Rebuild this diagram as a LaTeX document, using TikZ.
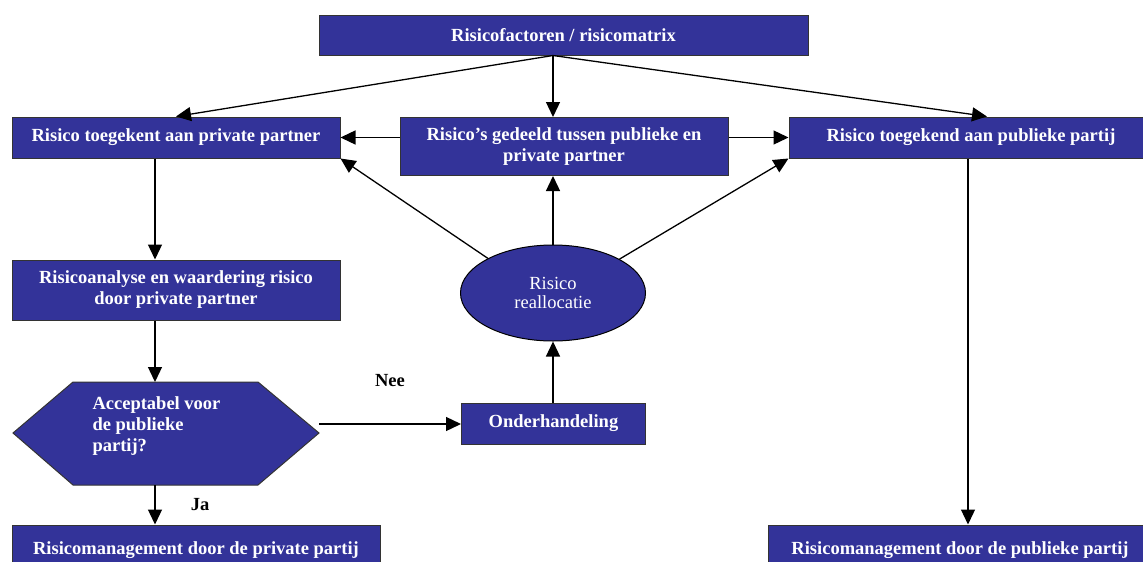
\documentclass[tikz,border=0pt]{standalone}
\usepackage{fontspec}
\setmainfont{Liberation Serif}
\usetikzlibrary{arrows.meta,shapes.geometric,calc}
\definecolor{boxblue}{HTML}{333399}
\begin{document}
\begin{tikzpicture}[x=1pt,y=-1pt,
  blk/.style={draw=black!80,line width=1pt,fill=boxblue,text=white,font=\fontsize{18.5}{21}\selectfont\bfseries,align=center,inner sep=0pt},
  conn/.style={line width=1.3pt,-{Triangle[length=15pt,width=14pt]}},
  lbl/.style={font=\fontsize{18.5}{21}\selectfont\bfseries}]
\useasboundingbox (0,0) rectangle (1143,562);
\clip (0,0) rectangle (1143,562);
% boxes
\node[blk,minimum width=489,minimum height=40] (top) at (563.5,35) {Risicofactoren / risicomatrix};
\node[blk,minimum width=328,minimum height=41] (priv) at (176,137.5) {Risico toegekent aan private partner};
\node[blk,minimum width=328,minimum height=58] (shared) at (564,146.5) {Risico’s gedeeld tussen publieke en\\private partner};
\node[blk,minimum width=370,minimum height=41] (publ) at (974,137.5) {\hspace*{-6pt}Risico toegekend aan publieke partij};
\node[blk,minimum width=328,minimum height=60] (anal) at (176,290) {Risicoanalyse en waardering risico\\door private partner};
\node[blk,minimum width=184,minimum height=41] (ond) at (553.5,423.5) {Onderhandeling};
\node[blk,minimum width=368,minimum height=50] (mgpriv) at (196,550) {};
\node[lbl,text=white,anchor=base] at (196,554) {Risicomanagement door de private partij};
\node[blk,minimum width=380,minimum height=50] (mgpubl) at (958,550) {};
\node[lbl,text=white,anchor=base] at (960,554) {Risicomanagement door de publieke partij};
% ellipse
\node[draw=black,line width=1pt,fill=boxblue,ellipse,minimum width=185,minimum height=96,inner sep=0pt,
      text=white,font=\fontsize{18.5}{19}\selectfont,align=center] (realloc) at (553,293) {Risico\\reallocatie};
% hexagon decision
\path[draw=black!80,line width=1pt,fill=boxblue]
  (13,433) -- (73,382) -- (258,382) -- (319,433) -- (258,485) -- (73,485) -- cycle;
\coordinate (hexN) at (155,382);
\coordinate (hexS) at (155,485);
\coordinate (hexE) at (319,424);
\node[lbl,text=white,align=left,anchor=north west] (hextxt) at (89,393) {Acceptabel voor\\de publieke\\partij?};
% connectors
\draw[conn] (top.south -| realloc) -- (priv.north);
\draw[conn] (top.south -| realloc) -- (shared.north -| realloc);
\draw[conn] (top.south -| realloc) -- (publ.north -| 987,0);
\draw[conn] (shared.west |- priv) -- (priv.east);
\draw[conn] (shared.east |- publ) -- (publ.west);
\draw[conn] (realloc.north) -- (shared.south -| realloc);
\draw[conn] (realloc.152) -- (priv.south east);
\draw[conn] (realloc.27) -- (publ.south west);
\draw[conn] (ond.north -| realloc) -- (realloc.south);
\draw[conn] (priv.south -| hexN) -- (anal.north -| hexN);
\draw[conn] (anal.south -| hexN) -- (hexN);
\draw[conn] (hexS) -- (mgpriv.north -| hexS);
\draw[conn] (hexE) -- (hexE -| ond.west);
\draw[conn] (publ.south -| 968,0) -- (mgpubl.north -| 968,0);
% labels
\node[lbl] (ja) at (200,505) {Ja};
\node[lbl] (nee) at (390,381) {Nee};
\end{tikzpicture}
\end{document}
